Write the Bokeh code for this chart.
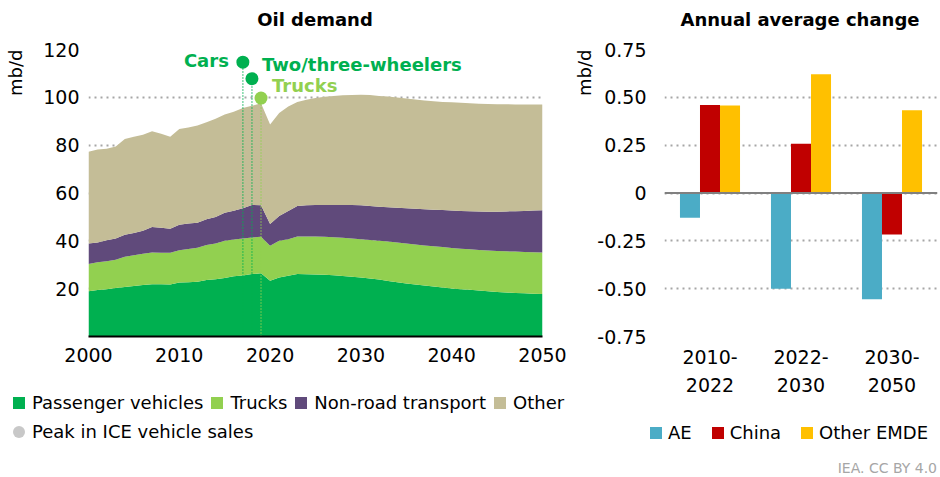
import numpy as np
from bokeh.plotting import figure
from bokeh.models import (ColumnDataSource, Range1d, FixedTicker, Title, Span, FactorRange,
                          NumeralTickFormatter, Div)
from bokeh.transform import dodge
from bokeh.layouts import row, column
from bokeh.embed import file_html
from bokeh.resources import INLINE
from bokeh.core.properties import value

# ---------------- data ----------------
years = list(range(2000, 2051))
passenger = [18.9, 19.4, 19.8, 20.3, 20.7, 21.1, 21.5, 21.8, 21.8, 21.7,
             22.6, 22.7, 22.9, 23.6, 23.9, 24.5, 25.2, 25.5, 26.1, 26.4,
             23.3, 24.7, 25.4, 26.1, 26.0, 25.9, 25.8, 25.6, 25.3, 25.0,
             24.7, 24.2, 23.8, 23.2, 22.7, 22.2, 21.7, 21.3, 20.9, 20.5,
             20.1, 19.8, 19.5, 19.2, 18.9, 18.6, 18.4, 18.2, 18.1, 17.9, 17.8]
trucks = [11.4, 11.6, 11.7, 11.8, 12.6, 12.9, 13.1, 13.3, 13.2, 13.3,
          13.5, 13.9, 14.2, 14.7, 15.0, 15.5, 15.4, 15.5, 15.3, 15.3,
          14.6, 15.3, 15.3, 15.7, 15.8, 15.9, 15.9, 15.9, 16.0, 16.0,
          16.0, 16.2, 16.2, 16.5, 16.6, 16.7, 16.8, 16.8, 16.8, 16.9,
          16.9, 16.9, 17.0, 17.0, 17.1, 17.2, 17.2, 17.3, 17.2, 17.3, 17.3]
non_road = [8.6, 8.3, 8.7, 8.9, 9.2, 9.3, 9.6, 10.7, 10.5, 10.1,
            10.6, 10.6, 10.5, 10.7, 11.1, 11.7, 12.0, 12.6, 13.6, 13.2,
            9.1, 10.4, 11.8, 12.8, 13.1, 13.2, 13.3, 13.5, 13.7, 14.0,
            14.2, 14.2, 14.3, 14.3, 14.5, 14.7, 14.9, 15.1, 15.3, 15.5,
            15.7, 15.8, 15.9, 16.1, 16.2, 16.4, 16.7, 16.9, 17.2, 17.5, 17.7]
other = [38.3, 38.9, 38.3, 38.4, 40.1, 40.2, 40.2, 40.0, 39.3, 38.4,
         40.1, 40.2, 40.6, 40.6, 41.0, 41.1, 41.4, 41.9, 41.5, 42.6,
         41.6, 43.1, 43.7, 43.4, 44.1, 44.7, 45.2, 45.6, 45.9, 46.0,
         46.2, 46.4, 46.3, 46.3, 46.1, 45.9, 45.7, 45.5, 45.4, 45.2,
         45.2, 45.2, 45.1, 45.0, 45.0, 44.9, 44.8, 44.6, 44.5, 44.3, 44.2]
series_labels = ["Passenger vehicles", "Trucks", "Non-road transport", "Other"]

peak_labels = ["Cars", "Two/three-wheelers", "Trucks"]
peak_years = [2017, 2018, 2019]
peak_values = [114.7, 107.8, 99.7]
peak_legend = "Peak in ICE vehicle sales"

periods = ["2010-\n2022", "2022-\n2030", "2030-\n2050"]
ae = [-0.13, -0.50, -0.555]
china = [0.46, 0.257, -0.217]
other_emde = [0.457, 0.62, 0.432]
region_labels = ["AE", "China", "Other EMDE"]

left_yticks = [20, 40, 60, 80, 100, 120]
left_xticks = [2000, 2010, 2020, 2030, 2040, 2050]
right_yticks = [-0.75, -0.5, -0.25, 0, 0.25, 0.5, 0.75]
left_title = "Oil demand"
right_title = "Annual average change"
unit = "mb/d"
source_note = "IEA. CC BY 4.0"

# ---------------- styles ----------------
FONT = "DejaVu Sans"
area_colors = ["#00B050", "#92D050", "#604A7B", "#C4BD97"]
peak_colors = ["#00B050", "#00B050", "#92D050"]
peak_dot_legend_color = "#C8C8C8"
peak_xoff = [-14, 10, 11]
peak_yoff = [-2, -14, -13]
peak_align = ["right", "left", "left"]
bar_colors = ["#4BACC6", "#C00000", "#FFC000"]
GRID = "#A6A6A6"
W1, W2 = 571, 369


def style_common(p, standoff):
    p.outline_line_color = None
    p.background_fill_color = "white"
    p.border_fill_color = "white"
    p.xgrid.visible = False
    p.ygrid.grid_line_color = GRID
    p.ygrid.grid_line_dash = "2 4"
    p.ygrid.grid_line_width = 2
    p.yaxis.axis_line_color = None
    p.yaxis.major_tick_line_color = None
    p.yaxis.minor_tick_line_color = None
    p.yaxis.major_tick_out = 0
    p.yaxis.major_label_standoff = standoff
    p.xaxis.major_tick_line_color = None
    p.xaxis.minor_tick_line_color = None
    p.xaxis.major_tick_out = 0
    for ax in (p.xaxis, p.yaxis):
        ax.major_label_text_font = FONT
        ax.major_label_text_font_size = "19px"
        ax.major_label_text_color = "#000000"


def unit_title(p, spacer):
    if spacer > 0:
        p.add_layout(Title(text=" ", text_font_size="1px", standoff=spacer), "left")
    p.add_layout(Title(text=unit, align="right", text_font=FONT, text_font_size="18px",
                       text_font_style="normal", text_color="#000000", standoff=0), "left")


def title_div(text, width, center):
    return Div(width=width, height=35, margin=0, text=(
        f'<div style="position:relative;width:{width}px;height:35px">'
        f'<div style="position:absolute;top:9px;left:{center}px;transform:translateX(-50%);'
        f'font-family:\'{FONT}\';font-weight:bold;font-size:18px;line-height:22px;'
        f'white-space:nowrap;color:#000">{text}</div></div>'))


def legend_item(color, label, gap, standoff=8, round_=False):
    radius = "border-radius:50%;" if round_ else ""
    return (f'<span style="display:inline-flex;align-items:center;margin-right:{gap}px">'
            f'<span style="display:inline-block;width:12px;height:12px;background:{color};'
            f'{radius}margin-right:{standoff}px;flex:none"></span>'
            f'<span>{label}</span></span>')


# ---------------- left chart ----------------
p1 = figure(width=W1, height=355, x_range=Range1d(2000, 2050), y_range=Range1d(0, 120),
            output_backend="svg", toolbar_location=None,
            min_border_left=88, min_border_right=W1 - 88 - 454, min_border_top=14,
            min_border_bottom=54)
style_common(p1, 9)
p1.yaxis.ticker = FixedTicker(ticks=left_yticks)
p1.xaxis.ticker = FixedTicker(ticks=left_xticks)
p1.xaxis.axis_line_color = "#000000"
p1.xaxis.axis_line_width = 2
p1.xaxis.major_label_standoff = 11

src = ColumnDataSource(dict(year=years, passenger=passenger, trucks=trucks,
                            non_road=non_road, other=other))
areas = p1.varea_stack(stackers=["passenger", "trucks", "non_road", "other"], x="year",
                       color=area_colors, source=src)

peak_src = ColumnDataSource(dict(year=peak_years, val=peak_values, label=peak_labels,
                                 color=peak_colors, xoff=peak_xoff, yoff=peak_yoff,
                                 align=peak_align))
p1.segment(x0="year", y0=0, x1="year", y1="val", line_color="color", line_dash="1 2",
           line_width=1.5, source=peak_src)
p1.scatter(x="year", y="val", size=13, fill_color="color", line_color=None, source=peak_src)
p1.text(x="year", y="val", text="label", x_offset="xoff", y_offset="yoff",
        text_align="align", text_baseline="middle", text_color="color",
        text_font=value(FONT), text_font_style="bold", text_font_size="18px", source=peak_src)
unit_title(p1, 12)

row1 = "".join(legend_item(c, l, 8, standoff=7) for c, l in zip(area_colors, series_labels))
row2 = legend_item(peak_dot_legend_color, peak_legend, 8, standoff=7, round_=True)
div1 = Div(width=W1, height=87, margin=0, text=(
    f'<div style="font-family:\'{FONT}\';font-size:18px;color:#000;white-space:nowrap;'
    f'padding-left:13px;line-height:22px">'
    f'<div style="height:26px;display:flex;align-items:center">{row1}</div>'
    f'<div style="height:32px;display:flex;align-items:center">{row2}</div></div>'))

# ---------------- right chart ----------------
p2 = figure(width=W2, height=380, x_range=FactorRange(*periods), y_range=Range1d(-0.75, 0.75),
            output_backend="svg", toolbar_location=None,
            min_border_left=664 - W1, min_border_right=3, min_border_top=14,
            min_border_bottom=79)
style_common(p2, 18)
p2.yaxis.ticker = FixedTicker(ticks=right_yticks)
p2.yaxis.formatter = NumeralTickFormatter(format="0.00")
p2.yaxis.major_label_overrides = {0: "0"}
p2.xaxis.axis_line_color = None
p2.xaxis.major_label_standoff = 9
p2.xaxis.major_label_text_line_height = 1.3
p2.x_range.range_padding = 0

src2 = ColumnDataSource(dict(period=periods, ae=ae, china=china, other_emde=other_emde))
for off, col, c in zip([-0.22, 0.0, 0.22], ["ae", "china", "other_emde"], bar_colors):
    p2.vbar(x=dodge("period", off, range=p2.x_range), top=col, width=0.22,
            fill_color=c, line_color=None, source=src2)
p2.add_layout(Span(location=0, dimension="width", line_color="#808080", line_width=2))
unit_title(p2, 0)

row3 = "".join(legend_item(c, l, 20, standoff=6) for c, l in zip(bar_colors, region_labels))
div2 = Div(width=W2, height=62, margin=0, text=(
    f'<div style="font-family:\'{FONT}\';font-size:18px;color:#000;white-space:nowrap;'
    f'position:relative;width:{W2}px;height:62px;line-height:22px">'
    f'<div style="height:36px;display:flex;align-items:center;padding-left:{650 - W1}px">{row3}</div>'
    f'<div style="position:absolute;right:3px;top:45px;font-size:14px;line-height:17px;'
    f'color:#A6A6A6">{source_note}</div></div>'))

t1 = title_div(left_title, W1, 315)
t2 = title_div(right_title, W2, 800 - W1)

layout = row(column(t1, p1, div1), column(t2, p2, div2))
open("out.html", "w").write(file_html(layout, INLINE))
